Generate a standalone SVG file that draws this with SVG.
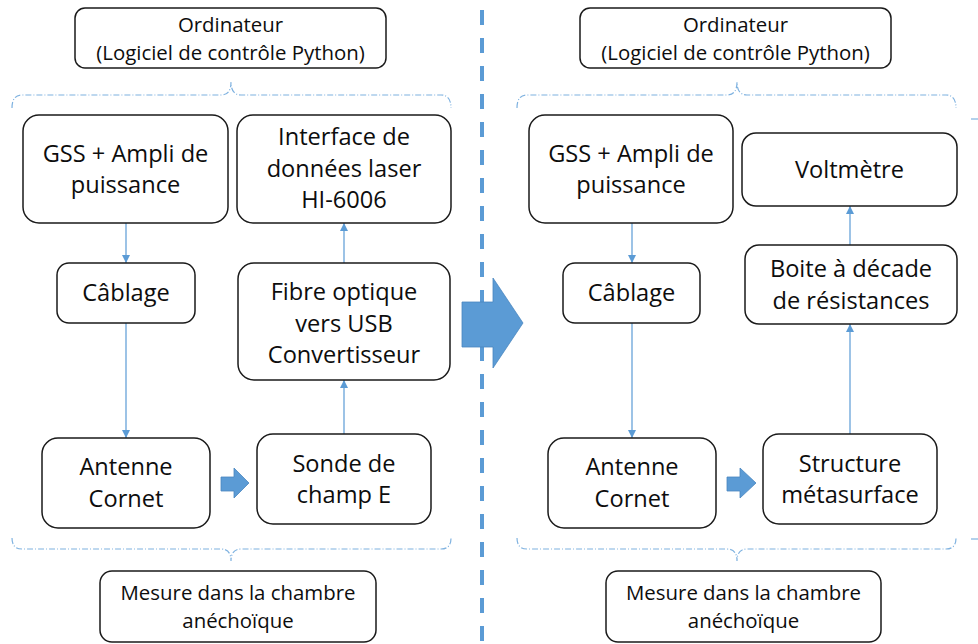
<svg xmlns="http://www.w3.org/2000/svg" width="978" height="644" viewBox="0 0 978 644">
<style>
.box{fill:#fff;stroke:#1a1a1a;stroke-width:1.5}
.t{font-family:"Open Sans","Liberation Sans",sans-serif;font-size:23.6px;fill:#0d0d0d;text-anchor:middle}
.s{font-family:"Open Sans","Liberation Sans",sans-serif;font-size:20.4px;fill:#0d0d0d;text-anchor:middle}
.c{stroke:#5B9BD5;stroke-width:1.2;fill:none;marker-end:url(#ah)}
.br{stroke:#7fb2e0;stroke-width:1.2;fill:none;stroke-dasharray:6 2 1 2}
.blk{fill:#5B9BD5;stroke:#4a86bf;stroke-width:0.8}
</style>
<defs>
<marker id="ah" viewBox="0 0 10 10" refX="10" refY="5" markerWidth="8" markerHeight="8" markerUnits="userSpaceOnUse" orient="auto">
<path d="M0,0 L10,5 L0,10 z" fill="#5B9BD5"/>
</marker>
</defs>
<rect width="978" height="644" fill="#fff"/>

<!-- separator -->
<line x1="482" y1="10" x2="482" y2="644" stroke="#5B9BD5" stroke-width="4" stroke-dasharray="15 13"/>

<!-- brackets -->
<g id="brackets">
<path class="br" d="M12,108 Q12,95 22,95 L221,95 Q231,95 231,82 Q231,95 241,95 L441,95 Q451,95 451,108"/>
<path class="br" d="M12,538 Q12,549 22,549 L221,549 Q231,549 231,561 Q231,549 241,549 L441,549 Q451,549 451,538"/>
<path class="br" d="M517,108 Q517,95 527,95 L727,95 Q737,95 737,82 Q737,95 747,95 L946,95 Q956,95 956,108"/>
<path class="br" d="M517,538 Q517,549 527,549 L727,549 Q737,549 737,561 Q737,549 747,549 L946,549 Q956,549 956,538"/>
<line x1="971" y1="119" x2="978" y2="119" stroke="#7fb2e0" stroke-width="1.2"/>
<line x1="971" y1="539" x2="978" y2="539" stroke="#7fb2e0" stroke-width="1.2"/>
</g>

<!-- connectors -->
<g id="connectors">
<line class="c" x1="126" y1="223" x2="126" y2="263"/>
<line class="c" x1="126" y1="323" x2="126" y2="438"/>
<line class="c" x1="344" y1="434" x2="344" y2="380"/>
<line class="c" x1="344" y1="263" x2="344" y2="223"/>
<line class="c" x1="632" y1="223" x2="632" y2="263"/>
<line class="c" x1="632" y1="323" x2="632" y2="438"/>
<line class="c" x1="850" y1="434" x2="850" y2="324"/>
<line class="c" x1="850" y1="245" x2="850" y2="206"/>
<path class="blk" d="M221,477 L234,477 L234,468 L249,483 L234,498 L234,491 L221,491 Z"/>
<path class="blk" d="M727,477 L740,477 L740,468 L756,483 L740,498 L740,491 L727,491 Z"/>
<path class="blk" d="M462,302 L493,302 L493,278 L523,323 L493,368 L493,347 L462,347 Z"/>
</g>

<!-- left panel -->
<g id="ordinateur1">
<rect class="box" x="75" y="8" width="311" height="60" rx="10"/>
<text class="s" x="230.5" y="32">Ordinateur</text>
<text class="s" x="230.5" y="60">(Logiciel de contrôle Python)</text>
</g>
<g id="gss1">
<rect class="box" x="23" y="115" width="205" height="108" rx="16"/>
<text class="t" x="125.5" y="162">GSS + Ampli de</text>
<text class="t" x="125.5" y="193">puissance</text>
</g>
<g id="interface1">
<rect class="box" x="237" y="115" width="214" height="108" rx="16"/>
<text class="t" x="344" y="145">Interface de</text>
<text class="t" x="344" y="177">données laser</text>
<text class="t" x="344" y="208">HI-6006</text>
</g>
<g id="cablage1">
<rect class="box" x="57" y="263" width="138" height="60" rx="12"/>
<text class="t" x="126" y="301">Câblage</text>
</g>
<g id="fibre1">
<rect class="box" x="238" y="263" width="212" height="117" rx="16"/>
<text class="t" x="344" y="300">Fibre optique</text>
<text class="t" x="344" y="332">vers USB</text>
<text class="t" x="344" y="363">Convertisseur</text>
</g>
<g id="antenne1">
<rect class="box" x="42" y="438" width="168" height="90" rx="16"/>
<text class="t" x="126" y="475">Antenne</text>
<text class="t" x="126" y="507">Cornet</text>
</g>
<g id="sonde1">
<rect class="box" x="257" y="434" width="174" height="90" rx="16"/>
<text class="t" x="344" y="472">Sonde de</text>
<text class="t" x="344" y="503">champ E</text>
</g>
<g id="mesure1">
<rect class="box" x="100" y="571" width="276" height="71" rx="12"/>
<text class="s" x="238" y="600">Mesure dans la chambre</text>
<text class="s" x="238" y="628">anéchoïque</text>
</g>

<!-- right panel -->
<g id="ordinateur2">
<rect class="box" x="580" y="8" width="311" height="60" rx="10"/>
<text class="s" x="735.5" y="32">Ordinateur</text>
<text class="s" x="735.5" y="60">(Logiciel de contrôle Python)</text>
</g>
<g id="gss2">
<rect class="box" x="529" y="115" width="204" height="108" rx="16"/>
<text class="t" x="631" y="162">GSS + Ampli de</text>
<text class="t" x="631" y="193">puissance</text>
</g>
<g id="voltmetre">
<rect class="box" x="742" y="133" width="215" height="73" rx="14"/>
<text class="t" x="849.5" y="178">Voltmètre</text>
</g>
<g id="cablage2">
<rect class="box" x="563" y="263" width="137" height="60" rx="12"/>
<text class="t" x="631.5" y="301">Câblage</text>
</g>
<g id="boite">
<rect class="box" x="745" y="245" width="212" height="79" rx="14"/>
<text class="t" x="851" y="277">Boite à décade</text>
<text class="t" x="851" y="309">de résistances</text>
</g>
<g id="antenne2">
<rect class="box" x="548" y="438" width="168" height="90" rx="16"/>
<text class="t" x="632" y="475">Antenne</text>
<text class="t" x="632" y="507">Cornet</text>
</g>
<g id="structure">
<rect class="box" x="763" y="434" width="174" height="90" rx="16"/>
<text class="t" x="850" y="472">Structure</text>
<text class="t" x="850" y="503">métasurface</text>
</g>
<g id="mesure2">
<rect class="box" x="606" y="571" width="275" height="71" rx="12"/>
<text class="s" x="743.5" y="600">Mesure dans la chambre</text>
<text class="s" x="743.5" y="628">anéchoïque</text>
</g>
</svg>
